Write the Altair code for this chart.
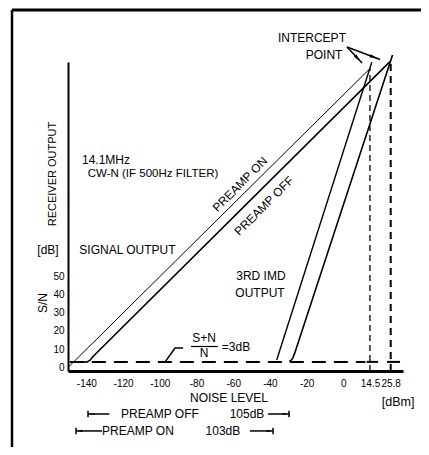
import altair as alt
import pandas as pd

# ---- series (x: noise level dBm, y: receiver output dB)
on_x = [-149.5, -147.5, 14.5]
on_y = [0.5, 2.4, 164.0]
off_x = [-142.5, -139.5, -138.0, -136.5, 25.8]
off_y = [2.8, 3.0, 3.9, 5.8, 168.2]
imd_on_x = [-36.3, 15.5]
imd_on_y = [4.0, 167.5]
imd_off_x = [-29.5, -28.5, -27.5, -26.5, 26.8]
imd_off_y = [3.3, 3.8, 5.2, 7.8, 171.5]
noise_floor = 3
floor_x = [-149.0, 12.0]
floor_marks_x = [12.7, 23.8]
floor_marks_x2 = [18.9, 30.9]
intercept_x = [14.5, 25.8]
intercept_y = [164.0, 167.0]
x_ticks = [-140, -120, -100, -80, -60, -40, -20, 0, 14.5, 25.8]
y_ticks = [0, 10, 20, 30, 40, 50]

# ---- texts
labels = ["RECEIVER OUTPUT", "[dB]", "S/N", "14.1MHz", "CW-N (IF 500Hz FILTER)",
          "SIGNAL OUTPUT", "PREAMP ON", "PREAMP OFF", "3RD IMD", "OUTPUT",
          "INTERCEPT", "POINT", "NOISE LEVEL", "[dBm]", "S+N", "N", "=3dB",
          "PREAMP OFF", "105dB", "PREAMP ON", "103dB"]
# annotation layout (data units), angle, font size
label_x = [-158.2, -160.9, -163.6, -129.3, -103.7, -117.6, -56.3, -43.2, -44.9, -45.4,
           -17.1, -10.5, -62.3, 29.8, -75.9, -75.9, -58.5, -99.9, -52.5, -111.9, -65.6]
label_y = [106.1, 64.4, 35.3, 113.8, 106.1, 64.4, 100.5, 88.6, 50.2, 40.8,
           180.8, 171.4, -16.8, -19.0, 16.1, 7.9, 11.2, -25.6, -25.6, -34.9, -34.9]
label_angle = [270, 0, 270, 0, 0, 0, 315, 315, 0, 0, 0, 0, 0, 0, 0, 0, 0, 0, 0, 0, 0]
label_size = [11, 12, 12, 12, 11.5, 12, 12, 12, 12, 12, 12, 12, 12, 12.5, 12, 12, 12,
              12, 12, 12, 12]

# range arrows (rows)
range_y = [-25.6, -34.9]
range_left = [-139.1, -145.6]
range_left_end = [-127.5, -131.5]
range_right_start = [-41.0, -50.9]
range_right = [-29.6, -38.3]

# intercept pointer arrows
ptr_from = (2.0, 175.8)
ptr_to_x = [10.2, 20.0]
ptr_to_y = [167.0, 169.0]
ptr_head_x = [8.0, 16.7]
ptr_head_y = [169.4, 170.2]
ptr_head_angle = [137, 112]

# S+N/N leader
leader_x = [-97.2, -91.7, -87.3]
leader_y = [2.9, 10.6, 10.6]
frac_x = [-83.0, -68.3]
frac_y = 11.45

FONT = "Liberation Sans, Arial, Helvetica, sans-serif"
ARROW = "M0,-1L0.4,1L-0.4,1Z"

xs = alt.Scale(domain=[-150, 32.5], nice=False, zero=False)
ys = alt.Scale(domain=[-2, 167.6], nice=False, zero=False)
xaxis = alt.Axis(values=x_ticks, labelExpr="'' + datum.value", ticks=False, grid=False,
                 domainColor="black", domainWidth=3, labelFont=FONT, labelFontSize=10,
                 labelColor="black", labelPadding=7, labelOverlap=False, labelFlush=False,
                 title=None)
yaxis = alt.Axis(values=y_ticks, ticks=False, grid=False, domainColor="black",
                 domainWidth=2, labelFont=FONT, labelFontSize=10, labelColor="black",
                 labelPadding=4, labelOverlap=False, labelFlush=False, title=None)
X = alt.X("x:Q", scale=xs, axis=xaxis)
Y = alt.Y("y:Q", scale=ys, axis=yaxis)


def line_layer(xv, yv, width):
    df = pd.DataFrame({"x": xv, "y": yv})
    return alt.Chart(df).mark_line(color="black", strokeWidth=width,
                                   interpolate="linear").encode(x=X, y=Y)


layers = []
layers.append(line_layer(on_x, on_y, 1.0))
layers.append(line_layer(off_x, off_y, 1.6))
layers.append(line_layer(imd_on_x, imd_on_y, 1.4))
layers.append(line_layer(imd_off_x, imd_off_y, 1.6))

# noise floor dashed
floor_df = pd.DataFrame({"x": [floor_x[0]], "x2": [floor_x[1]], "y": [noise_floor]})
layers.append(alt.Chart(floor_df).mark_rule(color="black", strokeWidth=2,
                                            strokeDash=[14, 8]).encode(x=X, x2="x2:Q", y=Y))
marks_df = pd.DataFrame({"x": floor_marks_x, "x2": floor_marks_x2,
                         "y": [noise_floor] * 2})
layers.append(alt.Chart(marks_df).mark_rule(color="black", strokeWidth=2).encode(
    x=X, x2="x2:Q", y=Y))

# vertical dashed intercept lines
v1 = pd.DataFrame({"x": [intercept_x[0]], "y": [-2], "y2": [intercept_y[0]]})
v2 = pd.DataFrame({"x": [intercept_x[1]], "y": [-2], "y2": [intercept_y[1]]})
layers.append(alt.Chart(v1).mark_rule(color="black", strokeWidth=1.3,
                                      strokeDash=[6, 4]).encode(x=X, y=Y, y2="y2:Q"))
layers.append(alt.Chart(v2).mark_rule(color="black", strokeWidth=2,
                                      strokeDash=[7, 5]).encode(x=X, y=Y, y2="y2:Q"))

# leader for S+N/N
layers.append(line_layer(leader_x, leader_y, 1.5))
frac_df = pd.DataFrame({"x": [frac_x[0]], "x2": [frac_x[1]], "y": [frac_y]})
layers.append(alt.Chart(frac_df).mark_rule(color="black", strokeWidth=1.2).encode(
    x=X, x2="x2:Q", y=Y))

# intercept pointers
ptr_df = pd.DataFrame({"x": [ptr_from[0]] * 2, "y": [ptr_from[1]] * 2,
                       "x2": ptr_to_x, "y2": ptr_to_y})
layers.append(alt.Chart(ptr_df).mark_rule(color="black", strokeWidth=1.5).encode(
    x=X, y=Y, x2="x2:Q", y2="y2:Q"))
head_df = pd.DataFrame({"x": ptr_head_x, "y": ptr_head_y, "a": ptr_head_angle})
layers.append(alt.Chart(head_df).mark_point(shape=ARROW, filled=True, color="black",
                                            size=70, opacity=1).encode(
    x=X, y=Y, angle=alt.Angle("a:Q", scale=None)))

# range arrows
seg_df = pd.DataFrame({"x": range_left + range_right_start,
                       "x2": range_left_end + range_right,
                       "y": range_y + range_y})
layers.append(alt.Chart(seg_df).mark_rule(color="black", strokeWidth=1.5).encode(
    x=X, x2="x2:Q", y=Y))
bar_df = pd.DataFrame({"x": range_left + range_right,
                       "y": [v - 1.8 for v in range_y] * 2,
                       "y2": [v + 1.8 for v in range_y] * 2})
layers.append(alt.Chart(bar_df).mark_rule(color="black", strokeWidth=1.5).encode(
    x=X, y=Y, y2="y2:Q"))
ah_df = pd.DataFrame({"x": [v + 2.0 for v in range_left] + [v - 2.0 for v in range_right],
                      "y": range_y + range_y,
                      "a": [270, 270, 90, 90]})
layers.append(alt.Chart(ah_df).mark_point(shape=ARROW, filled=True, color="black",
                                          size=30, opacity=1).encode(
    x=X, y=Y, angle=alt.Angle("a:Q", scale=None)))

# texts
txt_df = pd.DataFrame({"x": label_x, "y": label_y, "t": labels, "a": label_angle,
                       "fs": label_size})
layers.append(alt.Chart(txt_df).mark_text(font=FONT, color="black", align="center",
                                          baseline="middle").encode(
    x=X, y=Y, text="t:N", angle=alt.Angle("a:Q", scale=None),
    size=alt.Size("fs:Q", scale=None)))

# frame (decoration)
frame_top = alt.Chart(pd.DataFrame({"k": [0]})).mark_rule(color="black", strokeWidth=3).encode(
    x=alt.value(-56), x2=alt.value(353), y=alt.value(-52))
frame_left = alt.Chart(pd.DataFrame({"k": [0]})).mark_rule(color="black", strokeWidth=2.5).encode(
    x=alt.value(-56), y=alt.value(-52), y2=alt.value(385))
layers += [frame_top, frame_left]

chart = alt.layer(*layers).properties(
    width=335, height=309,
    padding={"left": 60, "top": 54, "right": 18, "bottom": 76},
    autosize=alt.AutoSizeParams(type="none"),
    background="white",
).configure_view(stroke=None)

chart.save("out.html", embed_options={"renderer": "svg", "actions": False})
